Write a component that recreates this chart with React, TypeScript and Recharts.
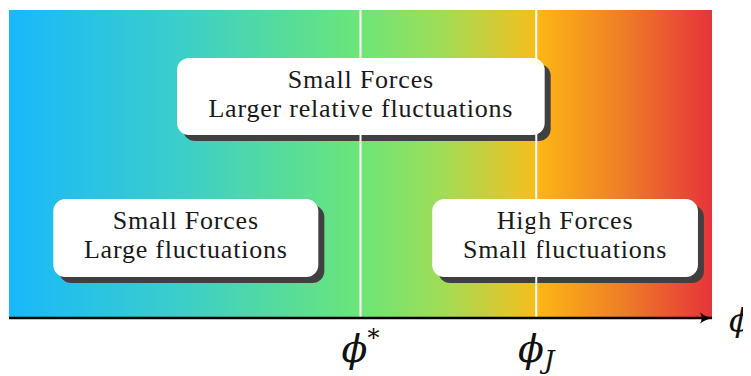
import {
  ComposedChart, XAxis, YAxis, ReferenceArea, ReferenceLine,
} from 'recharts'

// packing fraction axis, 0..1
const phiDomain = [0, 1]
const thresholds = [0.5, 0.75]
const thresholdSub = ['', 'J']
const thresholdSup = ['*', '']

// background gradient stops (offset along phi)
const gradOffsets = [0, 0.25, 0.5, 0.62, 0.75, 0.75, 0.87, 1]
const gradColors = ['#19b8fb', '#3ccfc8', '#6be678', '#a3dc55', '#f7be1c', '#fdb715', '#ef7f27', '#e7333a']

// annotation boxes in data coordinates
const boxTitles = ['Small Forces', 'Small Forces', 'High Forces']
const boxSubtitles = ['Larger relative fluctuations', 'Large fluctuations', 'Small fluctuations']
const boxX1 = [0.239, 0.063, 0.602]
const boxX2 = [0.762, 0.44, 0.98]
const boxY1 = [0.594, 0.133, 0.133]
const boxY2 = [0.844, 0.386, 0.386]

const serif = "'Liberation Serif', serif"
const mathFont = "'DejaVu Serif', serif"

const makeBox = (i: number) => (props: any) => {
  const { x, y, width, height } = props
  const cx = x + width / 2
  const txt = { fontFamily: serif, fontSize: 26, letterSpacing: 0.8 }
  return (
    <g>
      <rect x={x + 6} y={y + 6} width={width} height={height} rx={12} fill="#404040" />
      <rect x={x} y={y} width={width} height={height} rx={12} fill="#ffffff" />
      <text x={cx} y={y + 30} textAnchor="middle" style={txt} fill="#1a1a1a">
        {boxTitles[i]}
      </text>
      <text x={cx} y={y + 59} textAnchor="middle" style={txt} fill="#1a1a1a">
        {boxSubtitles[i]}
      </text>
    </g>
  )
}

const PhiTick = (props: any) => {
  const { x, y, payload } = props
  const i = thresholds.indexOf(payload.value)
  return (
    <text x={x} y={y + 36} textAnchor="middle" style={{ fontFamily: mathFont, fontSize: 38 }} fill="#111">
      <tspan fontStyle="italic">ϕ</tspan>
      {thresholdSup[i] && <tspan style={{ fontSize: 24 }} dy={-16}>{thresholdSup[i]}</tspan>}
      {thresholdSub[i] && <tspan style={{ fontSize: 26 }} fontStyle="italic" dy={7}>{thresholdSub[i]}</tspan>}
    </text>
  )
}

const AxisName = (props: any) => {
  const vb = props.viewBox || {}
  return (
    <text x={vb.x + vb.width + 17} y={vb.y + 13} style={{ fontFamily: mathFont, fontSize: 32 }} fontStyle="italic" fill="#111">
      ϕ
    </text>
  )
}

export default function App() {
  return (
    <ComposedChart
      width={743}
      height={368}
      data={thresholds.map((t) => ({ phi: t }))}
      margin={{ top: 2, right: 39, bottom: 8, left: 1 }}
    >
      <defs>
        <linearGradient id="phiGrad" x1="0" y1="0" x2="1" y2="0">
          {gradOffsets.map((o, i) => (
            <stop key={i} offset={o} stopColor={gradColors[i]} />
          ))}
        </linearGradient>
        <marker id="arrowHead" markerWidth={16} markerHeight={12} refX={12} refY={6} orient="auto" markerUnits="userSpaceOnUse">
          <path d="M0,0.5 Q6,5 13,6 Q6,7 0,11.5 Q3.5,6 0,0.5 Z" fill="#000" />
        </marker>
      </defs>
      <XAxis
        type="number"
        dataKey="phi"
        domain={phiDomain}
        ticks={thresholds}
        tick={<PhiTick />}
        tickLine={false}
        height={50}
        axisLine={{ stroke: '#000', strokeWidth: 2.6, markerEnd: 'url(#arrowHead)' }}
        label={{ content: <AxisName /> }}
        allowDataOverflow
      />
      <YAxis type="number" domain={[0, 1]} hide allowDataOverflow />
      <ReferenceArea x1={0} x2={1} y1={0} y2={1} fill="url(#phiGrad)" fillOpacity={1} stroke="none" />
      {thresholds.map((t) => (
        <ReferenceLine key={t} x={t} stroke="#ffffff" strokeWidth={2} />
      ))}
      {boxTitles.map((_, i) => (
        <ReferenceArea
          key={i}
          x1={boxX1[i]}
          x2={boxX2[i]}
          y1={boxY1[i]}
          y2={boxY2[i]}
          shape={makeBox(i)}
        />
      ))}
    </ComposedChart>
  )
}
